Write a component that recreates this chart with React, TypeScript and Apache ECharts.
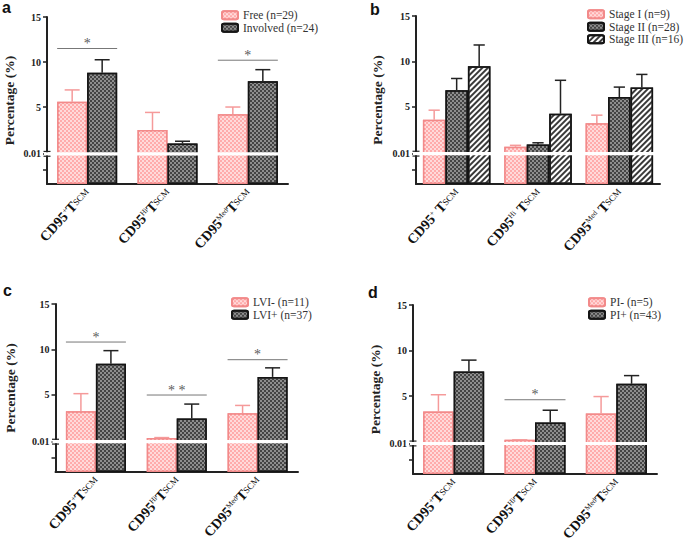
import React, { useEffect, useRef } from "react";
import * as echarts from "echarts";

// ---------- data ----------
const subsets = ["+", "Hi", "Med"]; // CD95 superscripts
const yTickLabels = ["0.01", "5", "10", "15"];

// panel a
const aFree = [5.6, 2.45, 4.2];
const aFreeUp = [6.9, 4.4, 5.0];
const aInv = [8.8, 0.95, 7.85];
const aInvUp = [10.25, 1.2, 9.15];
const aSig = [[0, 11.5, "*"], [2, 10.2, "*"]];

// panel b
const bI = [3.55, 0.55, 3.15];
const bIUp = [4.6, 0.72, 4.05];
const bII = [6.8, 0.8, 6.05];
const bIIUp = [8.1, 1.0, 7.15];
const bIII = [9.45, 4.2, 7.1];
const bIIIUp = [11.8, 7.9, 8.55];

// panel c
const cNeg = [3.15, 0.2, 2.95];
const cNegUp = [5.1, 0.25, 3.8];
const cPos = [8.4, 2.35, 6.95];
const cPosUp = [9.85, 3.95, 7.95];
const cSig = [[0, 10.8, "*"], [1, 4.95, "* *"], [2, 8.85, "*"]];

// panel d
const dNeg = [3.3, 0.2, 3.1];
const dNegUp = [5.15, 0.2, 4.95];
const dPos = [7.7, 2.1, 6.35];
const dPosUp = [8.95, 3.45, 7.25];
const dSig = [[1, 4.6, "*"]];

// ---------- styles ----------
const B = 3.55; // room below the axis break
const BREAK_AT = -0.2; // where "0.01" sits on the linear scale
const SERIF = "'Liberation Serif', 'Times New Roman', serif";

const pinkStyle = {
  color: "#ffabab",
  borderColor: "#f28a8a",
  borderWidth: 1.5,
  decal: {
    symbol: "rect",
    symbolSize: 1,
    dashArrayX: [[1.5, 1.5], [0, 1.5, 1.5, 0]],
    dashArrayY: [1.5, 0],
    color: "#ffdada",
  },
};
const darkStyle = {
  color: "#8e8e8e",
  borderColor: "#151515",
  borderWidth: 1.5,
  decal: {
    symbol: "rect",
    symbolSize: 1,
    dashArrayX: [[1.5, 1.5], [0, 1.5, 1.5, 0]],
    dashArrayY: [1.5, 0],
    color: "#444444",
  },
};
const hatchStyle = {
  color: "#ffffff",
  borderColor: "#151515",
  borderWidth: 1.5,
  decal: {
    symbol: "rect",
    symbolSize: 1,
    dashArrayX: [1, 0],
    dashArrayY: [1.3, 1.7],
    rotation: -Math.PI / 4,
    color: "#3a3a3a",
  },
};

const grids = [
  { left: 47, top: 17, width: 241, height: 167 },
  { left: 416, top: 16, width: 244, height: 168 },
  { left: 55.5, top: 304, width: 242.5, height: 168 },
  { left: 413, top: 305, width: 244, height: 169 },
].map((g) => ({ ...g, containLabel: false, outerBoundsMode: "none" }));
const barWidths = [30, 22.5, 30, 30.5];
const spaced = [false, true, false, false];

function errRender(offset: number, capHalf: number, color: string) {
  return (params: any, api: any) => {
    const cat = api.value(0);
    const p1 = api.coord([cat, api.value(1)]);
    const p2 = api.coord([cat, api.value(2)]);
    const x = p1[0] + offset;
    return {
      type: "group",
      children: [
        { type: "line", shape: { x1: x, y1: p1[1], x2: x, y2: p2[1] }, style: { stroke: color, lineWidth: 1.5 } },
        { type: "line", shape: { x1: x - capHalf, y1: p2[1], x2: x + capHalf, y2: p2[1] }, style: { stroke: color, lineWidth: 1.5 } },
      ],
    };
  };
}

function sigRender(halfSpan: number, texts: string[]) {
  return (params: any, api: any) => {
    const cat = api.value(0);
    const p = api.coord([cat, api.value(1)]);
    const txt = texts[params.dataIndex];
    return {
      type: "group",
      children: [
        { type: "line", shape: { x1: p[0] - halfSpan, y1: p[1], x2: p[0] + halfSpan, y2: p[1] }, style: { stroke: "#777", lineWidth: 1 } },
        { type: "text", x: p[0], y: p[1] - 5, style: { text: txt, fill: "#5a5a5a", font: `14px ${SERIF}`, align: "center", verticalAlign: "middle" } },
      ],
    };
  };
}

function breakRender(params: any, api: any) {
  const cs = params.coordSys;
  const y = api.coord([0, B + BREAK_AT])[1];
  return {
    type: "group",
    children: [
      { type: "rect", shape: { x: cs.x - 3, y: y - 1.6, width: cs.width + 3, height: 3.2 }, style: { fill: "#ffffff" } },
      { type: "line", shape: { x1: cs.x - 3.5, y1: y - 2.4, x2: cs.x + 3.5, y2: y - 2.4 }, style: { stroke: "#222", lineWidth: 1.2 } },
      { type: "line", shape: { x1: cs.x - 3.5, y1: y + 2.4, x2: cs.x + 3.5, y2: y + 2.4 }, style: { stroke: "#222", lineWidth: 1.2 } },
    ],
  };
}

type Grp = { name: string; vals: number[]; up: number[]; style: any; errColor: string };

function buildPanel(idx: number, groups: Grp[], sig: any[], series: any[]) {
  const n = groups.length;
  const bw = barWidths[idx];
  groups.forEach((g) => {
    series.push({
      type: "bar",
      name: g.name,
      xAxisIndex: idx,
      yAxisIndex: idx,
      barWidth: bw,
      barGap: "0%",
      itemStyle: g.style,
      z: 2,
      data: g.vals.map((v) => v + B),
    });
  });
  groups.forEach((g, i) => {
    const offset = (i - (n - 1) / 2) * bw;
    series.push({
      type: "custom",
      xAxisIndex: idx,
      yAxisIndex: idx,
      z: 3,
      itemStyle: { color: g.errColor },
      renderItem: errRender(offset, bw / 4, g.errColor),
      data: g.vals.map((v, k) => [k, v + B, g.up[k] + B]),
    });
  });
  if (sig.length) {
    series.push({
      type: "custom",
      xAxisIndex: idx,
      yAxisIndex: idx,
      z: 4,
      itemStyle: { color: "#5a5a5a" },
      renderItem: sigRender((n * bw) / 2, sig.map((s) => s[2] as string)),
      data: sig.map((s) => [s[0], (s[1] as number) + B]),
    });
  }
  series.push({
    type: "custom",
    xAxisIndex: idx,
    yAxisIndex: idx,
    z: 6,
    itemStyle: { color: "#ffffff" },
    renderItem: breakRender,
    data: [[0, B]],
  });
}

export default function App() {
  const ref = useRef<HTMLDivElement>(null);
  useEffect(() => {
    document.body.style.margin = "0";
    const chart = echarts.init(ref.current!, null, { renderer: "svg" });
    const series: any[] = [];
    const pinkErr = "#f59a9a";
    const darkErr = "#222";
    buildPanel(0, [
      { name: "Free (n=29)", vals: aFree, up: aFreeUp, style: pinkStyle, errColor: pinkErr },
      { name: "Involved (n=24)", vals: aInv, up: aInvUp, style: darkStyle, errColor: darkErr },
    ], aSig, series);
    buildPanel(1, [
      { name: "Stage I (n=9)", vals: bI, up: bIUp, style: pinkStyle, errColor: pinkErr },
      { name: "Stage II (n=28)", vals: bII, up: bIIUp, style: darkStyle, errColor: darkErr },
      { name: "Stage III (n=16)", vals: bIII, up: bIIIUp, style: hatchStyle, errColor: darkErr },
    ], [], series);
    buildPanel(2, [
      { name: "LVI- (n=11)", vals: cNeg, up: cNegUp, style: pinkStyle, errColor: pinkErr },
      { name: "LVI+ (n=37)", vals: cPos, up: cPosUp, style: darkStyle, errColor: darkErr },
    ], cSig, series);
    buildPanel(3, [
      { name: "PI- (n=5)", vals: dNeg, up: dNegUp, style: pinkStyle, errColor: pinkErr },
      { name: "PI+ (n=43)", vals: dPos, up: dPosUp, style: darkStyle, errColor: darkErr },
    ], dSig, series);

    const labelVals = [B + BREAK_AT, 5 + B, 10 + B, 15 + B];
    const yAxes = grids.map((_, i) => ({
      type: "value",
      gridIndex: i,
      min: 0,
      max: 15 + B,
      name: "Percentage (%)",
      nameLocation: "middle",
      nameGap: i === 2 ? 38 : i === 1 ? 32 : 31,
      nameTextStyle: { fontFamily: SERIF, fontWeight: "bold", fontSize: 13.5, color: "#222" },
      splitLine: { show: false },
      axisLine: { show: true, lineStyle: { color: "#222", width: 2 } },
      axisTick: { show: true, length: 4, lineStyle: { color: "#222", width: 1.5 }, customValues: [1.6, ...labelVals] },
      axisLabel: {
        customValues: labelVals,
        margin: 6,
        fontFamily: SERIF,
        fontWeight: "bold",
        fontSize: 10,
        color: "#222",
        formatter: (v: number) => yTickLabels[labelVals.findIndex((l) => Math.abs(l - v) < 0.01)] ?? "",
      },
    }));
    const xAxes = grids.map((_, i) => ({
      type: "category",
      gridIndex: i,
      data: subsets,
      axisLine: { lineStyle: { color: "#222", width: 2 } },
      axisTick: { alignWithLabel: true, length: 4, lineStyle: { color: "#222", width: 1.5 } },
      axisLabel: {
        interval: 0,
        rotate: 48,
        margin: 6,
        hideOverlap: false,
        formatter: (v: string) => `{m|CD95}{sup|${v}}{m|${spaced[i] ? " " : ""}T}{sub|SCM}`,
        rich: {
          m: { fontFamily: SERIF, fontWeight: "bold", fontSize: 14, color: "#111" },
          sup: { fontFamily: SERIF, fontSize: 7.5, color: "#111", verticalAlign: "top" },
          sub: { fontFamily: SERIF, fontSize: 9, color: "#111", verticalAlign: "middle" },
        },
      },
    }));
    const legendBase = {
      orient: "vertical",
      itemWidth: 16,
      itemHeight: 8,
      itemGap: 0,
      padding: 0,
      textStyle: { fontFamily: SERIF, fontSize: 11.5, color: "#333", lineHeight: 12.5 },
    };
    const titleFont = { fontFamily: "'Liberation Sans', Arial, sans-serif", fontWeight: "bold", fontSize: 16, color: "#111" };
    chart.setOption({
      animation: false,
      title: [
        { text: "a", left: 2, top: -1, padding: 0, textStyle: titleFont },
        { text: "b", left: 370, top: 1, padding: 0, textStyle: titleFont },
        { text: "c", left: 3, top: 282, padding: 0, textStyle: titleFont },
        { text: "d", left: 368, top: 284, padding: 0, textStyle: titleFont },
      ],
      legend: [
        { ...legendBase, left: 221, top: 9, data: ["Free (n=29)", "Involved (n=24)"] },
        { ...legendBase, left: 587, top: 8, data: ["Stage I (n=9)", "Stage II (n=28)", "Stage III (n=16)"] },
        { ...legendBase, left: 231, top: 296, data: ["LVI- (n=11)", "LVI+ (n=37)"] },
        { ...legendBase, left: 588, top: 296, data: ["PI- (n=5)", "PI+ (n=43)"] },
      ],
      grid: grids,
      xAxis: xAxes,
      yAxis: yAxes,
      series,
    });
    return () => chart.dispose();
  }, []);
  return <div ref={ref} style={{ width: 685, height: 544 }} />;
}
